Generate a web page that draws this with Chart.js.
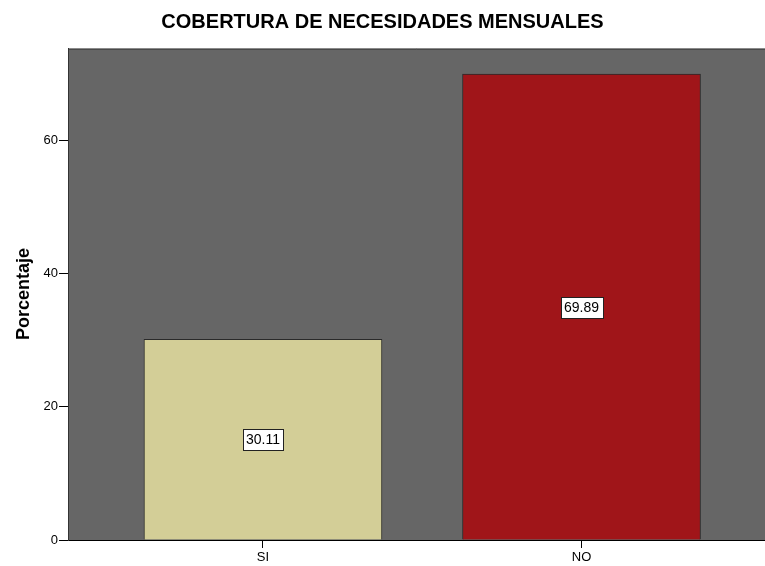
<!DOCTYPE html>
<html>
<head>
<meta charset="utf-8">
<script src="https://cdn.jsdelivr.net/npm/chart.js@4"></script>
<style>
  body { margin: 0; background: #fff; }
</style>
</head>
<body>
<canvas id="chart" width="765" height="566"></canvas>
<script>
const categories = ['SI', 'NO'];
const percentages = [30.11, 69.89];
const barColors = ['#d3ce97', '#a01519'];
const yTicks = [0, 20, 40, 60];

const FONT = 'Arial, "Liberation Sans", sans-serif';

// grey plot background with a darker frame
const plotBackground = {
    id: 'plotBackground',
    beforeDraw(chart) {
        const { ctx, chartArea: a } = chart;
        ctx.save();
        ctx.fillStyle = '#666666';
        ctx.fillRect(a.left, a.top, a.right - a.left, a.bottom - a.top);
        ctx.strokeStyle = '#8a8a8a';
        ctx.lineWidth = 1;
        ctx.beginPath();
        ctx.moveTo(a.left, a.top + 0.5);
        ctx.lineTo(a.right, a.top + 0.5);
        ctx.stroke();
        ctx.strokeStyle = '#4a4a4a';
        ctx.beginPath();
        ctx.moveTo(a.left, a.top + 1.5);
        ctx.lineTo(a.right, a.top + 1.5);
        ctx.stroke();
        ctx.restore();
    }
};

// boxed value labels in the middle of each bar
const valueLabels = {
    id: 'valueLabels',
    afterDatasetsDraw(chart) {
        const { ctx } = chart;
        const meta = chart.getDatasetMeta(0);
        ctx.save();
        ctx.font = '14px ' + FONT;
        ctx.textAlign = 'center';
        ctx.textBaseline = 'middle';
        meta.data.forEach((bar, i) => {
            const text = percentages[i].toFixed(2);
            const cy = Math.round((bar.y + bar.base) / 2);
            const w = Math.ceil(ctx.measureText(text).width) + 6;
            const h = 21;
            const x0 = Math.round(bar.x - w / 2) + 0.5;
            const y0 = Math.round(cy - h / 2) + 0.5;
            ctx.fillStyle = '#ffffff';
            ctx.fillRect(x0, y0, w, h);
            ctx.strokeStyle = '#222';
            ctx.lineWidth = 1;
            ctx.strokeRect(x0, y0, w, h);
            ctx.fillStyle = '#000';
            ctx.fillText(text, bar.x, cy + 1);
        });
        ctx.restore();
    }
};

new Chart(document.getElementById('chart').getContext('2d'), {
    type: 'bar',
    data: {
        datasets: [{
            data: percentages.map((v, i) => ({ x: i + 1, y: v })),
            backgroundColor: barColors,
            borderColor: '#2a2a2a',
            borderWidth: 1,
            barThickness: 238
        }]
    },
    options: {
        responsive: false,
        animation: false,
        layout: { padding: 0 },
        plugins: {
            legend: { display: false },
            tooltip: { enabled: false },
            title: {
                display: true,
                text: 'COBERTURA DE NECESIDADES MENSUALES',
                color: '#000',
                font: { family: FONT, size: 20, weight: 'bold' },
                padding: { top: 10, bottom: 14 }
            }
        },
        scales: {
            x: {
                type: 'linear',
                offset: false,
                min: 0.388,
                max: 2.576,
                afterBuildTicks: scale => { scale.ticks = [{ value: 1 }, { value: 2 }]; },
                afterFit: scale => { scale.height = 26; },
                ticks: {
                    callback: v => categories[v - 1],
                    color: '#000',
                    font: { family: FONT, size: 13 },
                    padding: 2,
                    maxRotation: 0
                },
                grid: { offset: false, drawOnChartArea: false, tickLength: 8, color: '#000' },
                border: { color: '#000', width: 1 }
            },
            y: {
                min: 0,
                max: 73.8,
                afterBuildTicks: scale => { scale.ticks = yTicks.map(v => ({ value: v })); },
                afterFit: scale => { scale.width = 68; },
                ticks: {
                    color: '#000',
                    font: { family: FONT, size: 13 },
                    padding: 1
                },
                grid: { drawOnChartArea: false, tickLength: 9, color: '#000' },
                border: { color: '#333', width: 1 },
                title: {
                    display: true,
                    text: 'Porcentaje',
                    color: '#000',
                    font: { family: FONT, size: 18, weight: 'bold' },
                    padding: { top: 13, bottom: 0 }
                }
            }
        }
    },
    plugins: [plotBackground, valueLabels]
});
</script>
</body>
</html>
